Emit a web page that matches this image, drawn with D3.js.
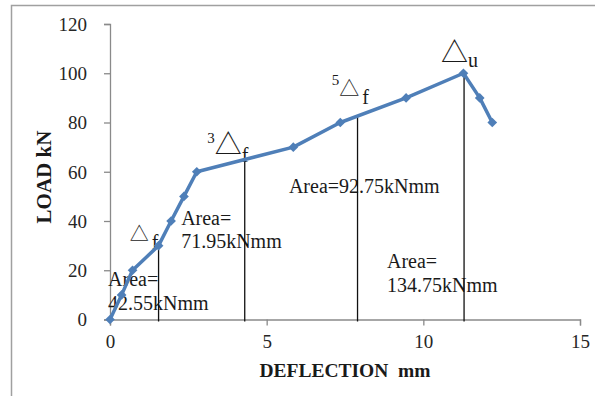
<!DOCTYPE html>
<html>
<head>
<meta charset="utf-8">
<script src="https://cdn.jsdelivr.net/npm/d3@7"></script>
<style>
  body { margin: 0; background: #fff; }
  svg { display: block; }
</style>
</head>
<body>
<svg id="chart" width="595" height="396"></svg>
<script>
// load-deflection curve
var deflection = [0, 0.37, 0.72, 1.55, 1.95, 2.36, 2.77, 5.85, 7.35, 9.45, 11.28, 11.8, 12.2]
var load = [0, 10, 20, 30, 40, 50, 60, 70, 80, 90, 100, 90, 80]

// vertical markers (Δf, 3Δf, 5Δf, Δu)
var markX = [1.55, 4.3, 7.9, 11.3]
var markY = [30, 65, 83, 100]

// area labels: text lines, anchor in data units
var areaLines = [["Area=", "42.55kNmm"], ["Area=", "71.95kNmm"], ["Area=92.75kNmm"], ["Area=", "134.75kNmm"]]
var areaX = [-0.06, 2.27, 5.71, 8.84]
var areaY = [13.5, 38.4, 51.4, 20.9]

// delta labels
var deltaPre = ["", "3", "5", ""]
var deltaSub = ["f", "f", "f", "u"]
var deltaX = [0.63, 3.1, 7.08, 10.56]
var deltaY = [31.9, 67.3, 90.7, 104.7]
var deltaBig = [false, true, false, true]

var xTicks = [0, 5, 10, 15]
var yTicks = [0, 20, 40, 60, 80, 100, 120]

var svg = d3.select("#chart")
var serif = "'Liberation Serif', 'Times New Roman', serif"

// frame (only left and top edges show)
svg.append("rect")
    .attr("x", 11.5).attr("y", 5.5)
    .attr("width", 700).attr("height", 500)
    .attr("fill", "none")
    .attr("stroke", "#a0a0a0")
    .attr("stroke-width", 1.5)

var x = d3.scaleLinear().domain([0, 15]).range([110, 580])
var y = d3.scaleLinear().domain([0, 120]).range([319.5, 24])

var xAxis = svg.append("g")
    .attr("transform", "translate(0," + y(0) + ")")
    .call(d3.axisBottom(x).tickValues(xTicks).tickSize(6).tickPadding(9))
var yAxis = svg.append("g")
    .attr("transform", "translate(" + x(0) + ",0)")
    .call(d3.axisLeft(y).tickValues(yTicks).tickSize(6).tickPadding(17))

svg.selectAll(".domain").attr("stroke", "#8a8a8a").attr("stroke-width", 1.3)
svg.selectAll(".tick line").attr("stroke", "#8a8a8a").attr("stroke-width", 1.3)
svg.selectAll(".tick text")
    .attr("font-family", serif)
    .attr("font-size", "19px")
    .attr("fill", "#262626")
yAxis.selectAll(".tick text").attr("dy", "0.34em")

// axis titles
svg.append("text")
    .attr("x", 345).attr("y", 377)
    .attr("text-anchor", "middle")
    .attr("font-family", serif)
    .attr("font-size", "19.5px")
    .attr("font-weight", "bold")
    .attr("fill", "#1a1a1a")
    .attr("xml:space", "preserve")
    .text("DEFLECTION  mm")

svg.append("text")
    .attr("transform", "translate(51,177) rotate(-90)")
    .attr("text-anchor", "middle")
    .attr("font-family", serif)
    .attr("font-size", "21px")
    .attr("font-weight", "bold")
    .attr("fill", "#1a1a1a")
    .text("LOAD kN")

// area labels
areaLines.forEach(function(lines, i) {
    var t = svg.append("text")
        .attr("x", x(areaX[i]))
        .attr("y", y(areaY[i]))
        .attr("font-family", serif)
        .attr("font-size", "20px")
        .attr("fill", "#1a1a1a")
    lines.forEach(function(s, k) {
        t.append("tspan")
            .attr("x", x(areaX[i]))
            .attr("dy", k == 0 ? 0 : 23.5)
            .text(s)
    })
})

// delta labels
deltaSub.forEach(function(sub, i) {
    var big = deltaBig[i]
    var t = svg.append("text")
        .attr("x", x(deltaX[i]))
        .attr("y", y(deltaY[i]))
        .attr("font-family", serif)
        .attr("fill", "#1a1a1a")
    if (deltaPre[i] != "") {
        t.append("tspan")
            .attr("font-size", "15px")
            .attr("dy", -11)
            .text(deltaPre[i])
        t.append("tspan")
            .attr("dy", 11)
            .attr("font-size", big ? "27px" : "20px")
            .attr("font-family", "'Noto Sans CJK SC'")
            .text("\u25B3")
    } else {
        t.append("tspan")
            .attr("font-size", big ? "27px" : "19px")
            .attr("font-family", "'Noto Sans CJK SC'")
            .text("\u25B3")
    }
    t.append("tspan")
        .attr("font-size", "20px")
        .attr("dx", big ? 0 : 3)
        .attr("dy", big && deltaPre[i] == "" ? 5 : 8)
        .text(sub)
})

// vertical marker lines
svg.selectAll("line.mark")
    .data(markX)
    .enter()
    .append("line")
    .attr("class", "mark")
    .attr("x1", function(d) { return x(d) })
    .attr("x2", function(d) { return x(d) })
    .attr("y1", function(d, i) { return y(markY[i]) })
    .attr("y2", y(0) + 2)
    .attr("stroke", "#111")
    .attr("stroke-width", 1.3)

// curve
var pts = deflection.map(function(d, i) { return [d, load[i]] })
svg.append("path")
    .attr("d", d3.line().x(function(d) { return x(d[0]) }).y(function(d) { return y(d[1]) })(pts))
    .attr("fill", "none")
    .attr("stroke", "#4f7fb8")
    .attr("stroke-width", 3.5)
    .attr("stroke-linejoin", "round")

svg.selectAll("path.pt")
    .data(pts)
    .enter()
    .append("path")
    .attr("class", "pt")
    .attr("d", d3.symbol().type(d3.symbolDiamond2).size(60))
    .attr("transform", function(d) { return "translate(" + x(d[0]) + "," + y(d[1]) + ")" })
    .attr("fill", "#4f7fb8")
</script>
</body>
</html>
